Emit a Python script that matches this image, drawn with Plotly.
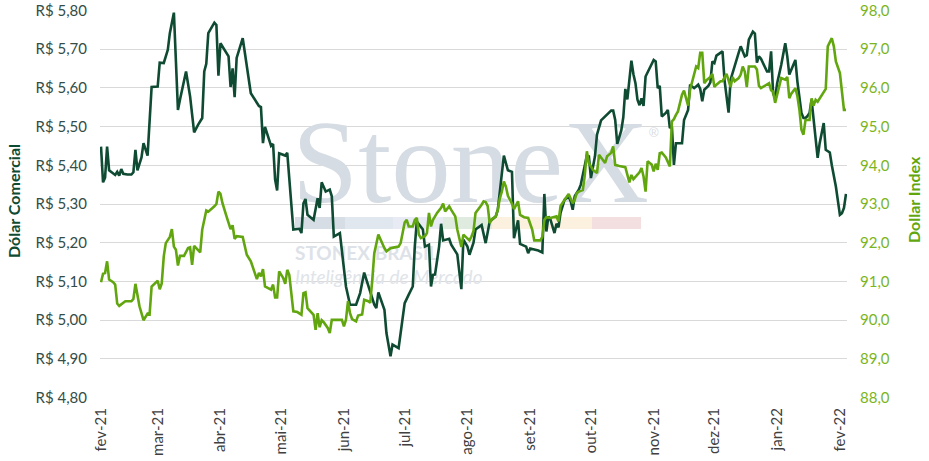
import pandas as pd
import plotly.graph_objects as go

START_DATE = "2021-02-01"

# Dólar Comercial (R$) — days since START_DATE and values
dolar_days = [0,1,2,3,4,6,7,8,9,10,11,13,15,16,17,18,20,21,23,25,28,29,31,33,34,36,38,39,42,44,46,48,50,51,52,53,56,57,58,59,63,64,65,66,67,70,74,78,79,80,81,84,85,86,87,88,91,92,95,98,99,100,101,102,105,107,108,109,111,113,114,115,118,121,123,126,128,130,133,135,136,137,140,141,143,144,147,150,152,154,155,156,159,160,162,163,164,165,167,168,169,172,173,175,176,178,179,181,182,184,185,188,190,192,195,196,197,199,201,203,204,206,207,210,211,212,216,218,219,220,221,222,224,225,226,227,229,231,232,233,234,236,237,238,240,241,242,244,245,247,250,252,253,254,255,257,258,259,260,262,263,264,265,266,267,268,269,272,273,274,275,276,277,279,280,281,282,283,284,287,288,290,291,292,293,295,296,297,298,300,301,302,303,304,306,307,308,310,311,313,315,316,318,319,320,322,323,324,325,326,328,329,330,331,332,333,334,336,338,339,340,341,343,344,345,346,347,348,349,350,351,353,354,355,356,357,358,360,361,363,365,366,367,368]
dolar_values = [5.448,5.356,5.368,5.448,5.387,5.380,5.375,5.383,5.373,5.390,5.378,5.376,5.376,5.382,5.440,5.387,5.420,5.457,5.425,5.602,5.603,5.665,5.664,5.698,5.741,5.794,5.543,5.569,5.642,5.578,5.485,5.505,5.522,5.642,5.662,5.741,5.768,5.762,5.631,5.715,5.681,5.602,5.650,5.576,5.677,5.728,5.586,5.553,5.550,5.457,5.499,5.450,5.455,5.363,5.335,5.431,5.425,5.432,5.234,5.236,5.225,5.302,5.313,5.272,5.259,5.315,5.290,5.356,5.332,5.337,5.320,5.216,5.225,5.087,5.040,5.040,5.070,5.123,5.072,5.040,5.031,5.072,5.027,4.967,4.907,4.937,4.928,5.044,5.066,5.087,5.190,5.255,5.234,5.190,5.195,5.087,5.117,5.118,5.190,5.249,5.206,5.210,5.195,5.178,5.170,5.080,5.208,5.190,5.169,5.200,5.234,5.246,5.199,5.255,5.268,5.285,5.332,5.425,5.387,5.383,5.212,5.258,5.197,5.190,5.173,5.185,5.180,5.175,5.326,5.229,5.268,5.260,5.225,5.249,5.240,5.277,5.311,5.320,5.307,5.285,5.320,5.337,5.350,5.375,5.425,5.423,5.367,5.423,5.479,5.516,5.530,5.541,5.541,5.517,5.455,5.490,5.524,5.597,5.570,5.670,5.635,5.612,5.569,5.555,5.573,5.553,5.629,5.659,5.672,5.668,5.599,5.605,5.526,5.535,5.543,5.496,5.500,5.401,5.457,5.457,5.517,5.543,5.608,5.603,5.599,5.608,5.597,5.565,5.595,5.605,5.614,5.668,5.664,5.683,5.690,5.694,5.620,5.536,5.621,5.659,5.691,5.707,5.681,5.684,5.724,5.745,5.740,5.665,5.681,5.675,5.655,5.642,5.642,5.694,5.586,5.573,5.612,5.659,5.715,5.681,5.634,5.646,5.672,5.616,5.569,5.535,5.522,5.522,5.527,5.535,5.569,5.466,5.419,5.457,5.483,5.509,5.440,5.433,5.400,5.345,5.272,5.276,5.290,5.326]

# Dollar Index — days since START_DATE and values
dxy_days = [0,1,2,3,4,6,7,8,9,11,12,15,16,17,18,19,21,23,24,25,28,29,30,31,32,34,35,36,37,38,39,41,43,44,45,46,49,50,52,53,56,57,58,59,60,61,62,64,65,66,67,70,72,74,76,77,78,79,80,81,84,85,86,87,88,90,91,92,93,95,97,99,100,101,102,105,106,107,108,109,110,112,113,114,119,120,121,122,123,124,126,127,129,130,132,133,134,135,137,138,140,141,143,145,147,148,150,151,152,154,155,156,157,158,160,161,162,163,164,165,166,168,169,170,172,173,175,176,178,179,181,182,183,184,185,187,188,189,190,191,192,193,195,196,197,198,199,200,201,203,204,206,207,209,211,213,214,217,218,219,220,222,224,225,226,227,229,230,231,233,234,235,236,238,239,240,241,243,245,246,247,249,250,252,253,254,256,259,261,262,263,264,266,267,268,269,270,272,273,274,275,276,277,279,281,282,283,284,285,287,288,289,290,291,292,293,294,295,296,297,298,299,301,302,303,304,306,307,308,309,311,312,313,315,316,317,318,319,320,323,324,325,326,327,329,330,331,332,333,334,335,336,338,339,340,341,343,344,345,346,347,348,350,351,352,353,354,355,356,357,358,359,361,362,363,365,366,367,368]
dxy_values = [90.98,91.20,91.22,91.52,91.05,90.98,90.92,90.43,90.37,90.45,90.49,90.49,90.55,90.94,90.61,90.36,90.00,90.17,90.15,90.87,91.02,90.80,90.95,91.65,91.99,92.15,92.35,91.90,91.82,91.41,91.66,91.66,91.86,91.88,91.43,91.92,91.75,92.34,92.83,92.80,92.94,93.00,93.32,93.26,93.02,92.87,92.68,92.35,92.45,92.10,92.17,92.15,91.69,91.52,91.22,91.06,91.22,91.13,91.32,90.87,90.79,90.92,90.59,90.59,91.26,91.09,90.94,91.30,91.17,90.23,90.21,90.14,90.70,90.72,90.31,90.14,89.75,90.18,89.82,90.00,89.95,89.80,89.67,90.01,90.01,89.84,90.01,90.49,90.18,90.03,89.97,90.12,90.15,90.53,90.49,90.45,91.05,91.73,92.21,92.08,91.86,91.78,91.86,91.88,91.90,91.99,92.52,92.59,92.42,92.42,92.59,92.64,92.21,92.12,92.17,92.25,92.77,92.42,92.59,92.68,92.77,92.90,93.01,92.81,92.94,92.85,92.68,92.34,91.89,92.21,92.12,92.06,92.16,92.30,92.77,92.90,92.98,93.07,93.05,92.95,92.51,92.60,92.68,92.85,93.15,93.32,93.58,93.45,93.21,93.01,92.87,93.07,92.72,92.66,92.64,92.34,92.06,92.06,92.15,92.59,92.66,92.64,92.66,92.68,92.55,92.95,93.11,93.20,93.26,93.02,93.11,93.28,93.32,93.36,93.75,94.36,94.06,93.88,93.80,94.27,94.19,94.06,94.23,94.32,94.49,94.01,93.98,93.95,93.56,93.75,93.64,93.71,93.82,93.93,93.71,93.32,94.10,94.02,93.84,94.04,93.88,94.31,94.33,94.20,93.97,95.13,95.19,95.30,95.39,95.82,95.93,95.73,95.54,95.95,96.16,96.33,96.55,96.51,96.90,96.90,96.12,96.19,96.28,96.36,96.02,96.08,96.17,96.17,96.28,96.36,96.02,96.28,96.17,96.25,96.34,96.55,96.42,96.02,96.55,96.55,96.47,96.05,95.99,96.02,96.08,96.12,95.94,95.90,95.61,95.85,96.08,96.25,96.21,96.28,95.73,95.85,95.99,95.78,95.43,94.92,94.79,95.17,95.17,95.73,95.54,95.69,95.64,95.73,95.82,95.90,95.97,97.07,97.28,97.07,96.68,96.38,95.90,95.43,95.43]

tick_dates = ["2021-02-01","2021-03-01","2021-04-01","2021-05-01","2021-06-01","2021-07-01",
              "2021-08-01","2021-09-01","2021-10-01","2021-11-01","2021-12-01","2022-01-01","2022-02-01"]
tick_labels = ["fev-21","mar-21","abr-21","mai-21","jun-21","jul-21","ago-21",
               "set-21","out-21","nov-21","dez-21","jan-22","fev-22"]

start = pd.Timestamp(START_DATE)
dolar_dates = start + pd.to_timedelta(dolar_days, unit="D")
dxy_dates = start + pd.to_timedelta(dxy_days, unit="D")

X0 = pd.Timestamp("2021-01-31 12:00")
X1 = pd.Timestamp("2022-02-04 12:00")
Y0, Y1 = 4.80, 5.80
PAD = 0.0008  # tiny headroom so the top gridline is drawn

DARK = "#0f4b33"
LIGHT = "#62a60f"
FONT = "Lato"

FIG_W, FIG_H = 929, 461
PLOT_L, PLOT_R, PLOT_T, PLOT_B = 100, 847, 10, 398
W = PLOT_R - PLOT_L
H = PLOT_B - PLOT_T


def fx(px):
    return (px - PLOT_L) / W


def fy(py):
    return (PLOT_B - py) / H


def px_x(f):
    return X0 + (X1 - X0) * f


def px_y(f):
    return (Y0 - PAD) + ((Y1 + PAD) - (Y0 - PAD)) * f


fig = go.Figure()

# watermark (below the data lines)
fig.add_trace(go.Scatter(x=[px_x(fx(292))], y=[px_y(fy(172))], mode="text", text=["StoneX"],
                         textposition="middle right", hoverinfo="skip", showlegend=False,
                         textfont=dict(family="Liberation Serif", size=119, color="#d6dce3")))
fig.add_trace(go.Scatter(x=[px_x(fx(649))], y=[px_y(fy(134))], mode="text", text=["®"],
                         textposition="middle right", hoverinfo="skip", showlegend=False,
                         textfont=dict(family="Liberation Sans", size=13, color="#d6dce3")))
fig.add_trace(go.Scatter(x=[px_x(fx(295))], y=[px_y(fy(255))], mode="text", text=["STONEX BRASIL"],
                         textposition="middle right", hoverinfo="skip", showlegend=False,
                         textfont=dict(family=FONT, size=19, color="#dde2e8", weight="bold")))
fig.add_trace(go.Scatter(x=[px_x(fx(295))], y=[px_y(fy(279))], mode="text", text=["Inteligência de Mercado"],
                         textposition="middle right", hoverinfo="skip", showlegend=False,
                         textfont=dict(family=FONT, size=19, color="#e0e4e9", style="italic")))

fig.add_trace(go.Scatter(x=dolar_dates, y=dolar_values, mode="lines", name="Dólar Comercial",
                         line=dict(color=DARK, width=2.6), yaxis="y", showlegend=False))
fig.add_trace(go.Scatter(x=dxy_dates, y=dxy_values, mode="lines", name="Dollar Index",
                         line=dict(color=LIGHT, width=2.6), yaxis="y2", showlegend=False))

# colored bar of the watermark
segs = [(295, 345, "#d7dde5"), (345, 393, "#e1e7ef"), (393, 443, "#e8ebf3"),
        (443, 492, "#e0ebe0"), (492, 592, "#fcf1de"), (592, 641, "#f3dfdf")]
shapes = []
for a, b, c in segs:
    shapes.append(dict(type="rect", xref="paper", yref="paper", layer="below",
                       x0=fx(a), x1=fx(b), y0=fy(229), y1=fy(217),
                       fillcolor=c, line=dict(width=0)))

span2 = (98 - 88) * PAD / (Y1 - Y0)

fig.update_layout(
    width=FIG_W, height=FIG_H,
    margin=dict(l=PLOT_L, r=FIG_W - PLOT_R, t=PLOT_T, b=FIG_H - PLOT_B, autoexpand=False),
    paper_bgcolor="white", plot_bgcolor="white",
    separators=",.",
    shapes=shapes,
    xaxis=dict(type="date", range=[X0, X1], tickvals=tick_dates, ticktext=tick_labels,
               tickangle=-90, showgrid=False, zeroline=False, showline=False, ticks="",
               ticklabelstandoff=6, automargin=False, ticklabeloverflow="allow",
               tickfont=dict(family=FONT, size=15, color="#404040")),
    yaxis=dict(range=[Y0 - PAD, Y1 + PAD], dtick=0.1, tick0=4.8, tickformat=".2f", tickprefix="R$ ",
               showgrid=True, gridcolor="#d9d9d9", gridwidth=1, zeroline=False, showline=False,
               ticks="", ticklabelstandoff=12, automargin=False, ticklabeloverflow="allow",
               tickfont=dict(family=FONT, size=15, color="#344d47")),
    yaxis2=dict(range=[88 - span2, 98 + span2], dtick=1, tick0=88, tickformat=".1f", overlaying="y",
                side="right", showgrid=False, zeroline=False, showline=False, ticks="",
                ticklabelstandoff=12, automargin=False, ticklabeloverflow="allow",
                tickfont=dict(family=FONT, size=15, color="#7ab51d")),
    annotations=[
        dict(text="<b>Dólar Comercial</b>", xref="paper", yref="paper", x=fx(13), y=fy(201),
             textangle=-90, showarrow=False, xanchor="center", yanchor="middle",
             font=dict(family=FONT, size=16, color=DARK)),
        dict(text="<b>Dollar Index</b>", xref="paper", yref="paper", x=fx(913), y=fy(200),
             textangle=-90, showarrow=False, xanchor="center", yanchor="middle",
             font=dict(family=FONT, size=16, color=LIGHT)),
    ],
)

fig.write_html("out.html", config={"displayModeBar": False},
               post_script="document.body.style.margin='0px';")
